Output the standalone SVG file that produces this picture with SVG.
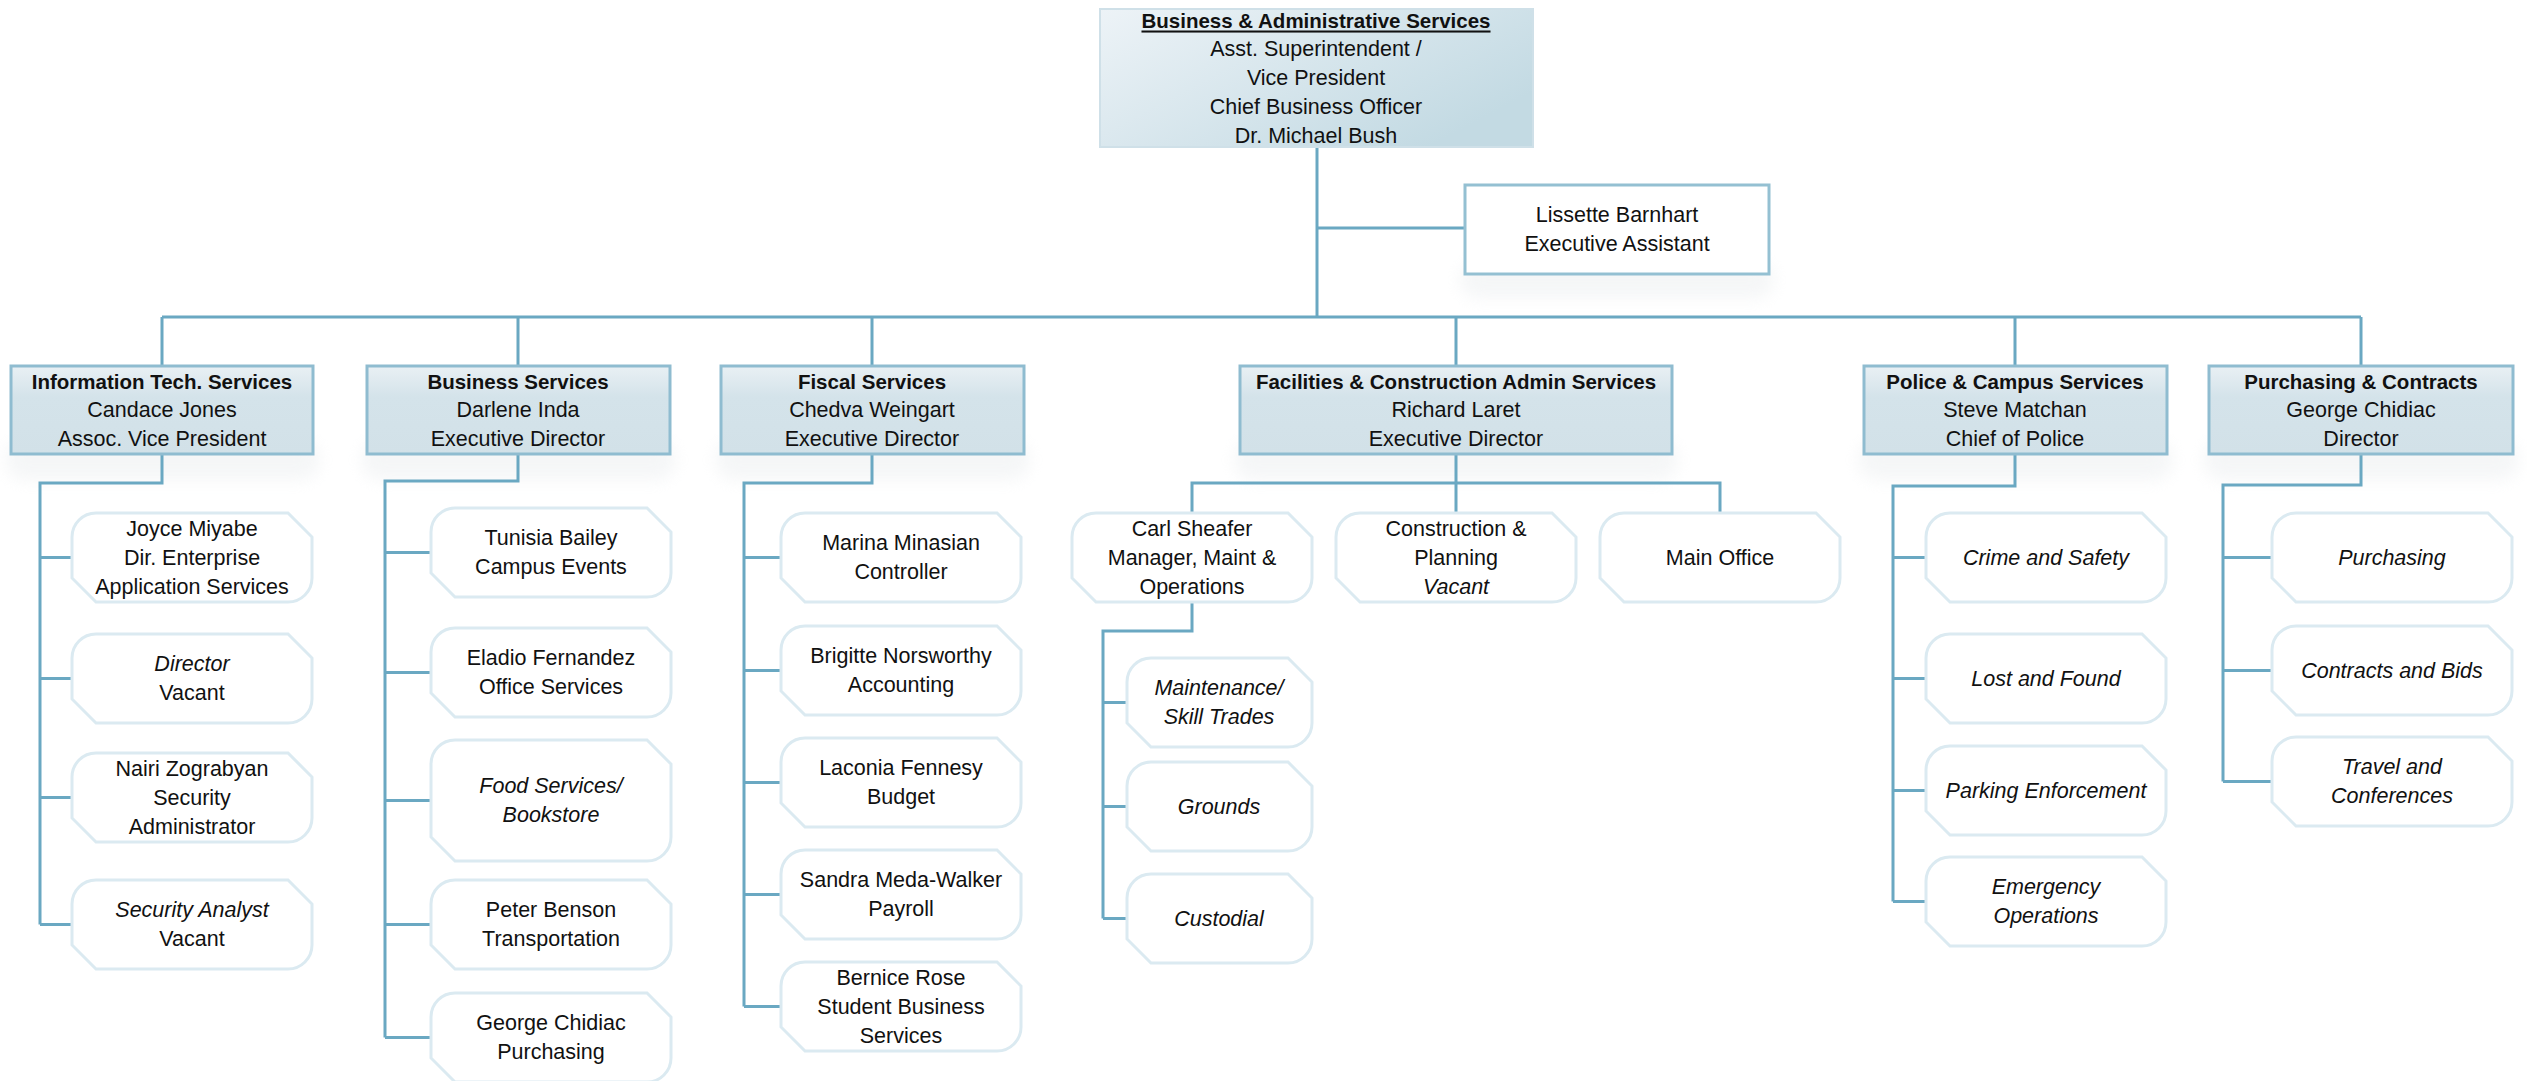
<svg xmlns="http://www.w3.org/2000/svg" xmlns:xlink="http://www.w3.org/1999/xlink" width="2527" height="1081" viewBox="0 0 2527 1081">
<style>
.t{font-family:"Liberation Sans",Arial,sans-serif;font-size:21.5px;text-anchor:middle;dominant-baseline:central;fill:#111}
.b{font-weight:bold;font-size:20.5px}
.i{font-style:italic}
.u{text-decoration:underline}
.conn path{stroke:#6aa8c2;stroke-width:3;fill:none}
.child{fill:#fff;stroke:#dbeaf1;stroke-width:3}
.dept{fill:url(#gDept);stroke:#8fbcd0;stroke-width:3}
.top{fill:url(#gTop);stroke:#cfe0e8;stroke-width:2}
.asst{fill:#fff;stroke:#94c0d2;stroke-width:3}
.sh{fill:#e9ecee;opacity:0.45;filter:url(#blur)}
</style>
<defs>
<filter id="blur" x="-20%" y="-50%" width="140%" height="200%"><feGaussianBlur stdDeviation="8"/></filter>
<linearGradient id="gTop" x1="0" y1="0" x2="1" y2="0.6">
<stop offset="0" stop-color="#edf3f7"/>
<stop offset="1" stop-color="#c3dae3"/>
</linearGradient>
<linearGradient id="gDept" x1="0" y1="0" x2="0" y2="1">
<stop offset="0" stop-color="#e9f0f4"/>
<stop offset="0.35" stop-color="#d4e3ea"/>
<stop offset="1" stop-color="#d2e1e8"/>
</linearGradient>
<path id="cb" d="M24,0 h192 l24,24 v41 a24,24 0 0 1 -24,24 h-192 l-24,-24 v-41 a24,24 0 0 1 24,-24 z"/>
<path id="cbTall" d="M24,0 h192 l24,24 v73 a24,24 0 0 1 -24,24 h-192 l-24,-24 v-73 a24,24 0 0 1 24,-24 z"/>
<path id="cbNarrow" d="M24,0 h137 l24,24 v41 a24,24 0 0 1 -24,24 h-137 l-24,-24 v-41 a24,24 0 0 1 24,-24 z"/>
</defs>
<rect width="2527" height="1081" fill="#fff"/>

<g id="shadows">
<rect class="sh" x="5" y="440" width="315" height="40" rx="20"/>
<rect class="sh" x="361" y="440" width="315" height="40" rx="20"/>
<rect class="sh" x="715" y="440" width="315" height="40" rx="20"/>
<rect class="sh" x="1234" y="440" width="444" height="40" rx="20"/>
<rect class="sh" x="1858" y="440" width="315" height="40" rx="20"/>
<rect class="sh" x="2203" y="440" width="316" height="40" rx="20"/>
<rect class="sh" x="1460" y="262" width="314" height="36" rx="18"/>
</g>

<g class="conn">
<path d="M1317,147 V317"/>
<path d="M1317,228 H1465"/>
<path d="M162,317 H2361"/>
<path d="M162,317 V366 M518,317 V366 M872,317 V366 M1456,317 V366 M2015,317 V366 M2361,317 V366"/>
<path d="M162,454 V483 H40 V924.5 M40,557.5 H72 M40,678.5 H72 M40,797.5 H72 M40,924.5 H72"/>
<path d="M518,454 V481 H385 V1037.5 M385,552.5 H431 M385,672.5 H431 M385,800.5 H431 M385,924.5 H431 M385,1037.5 H431"/>
<path d="M872,454 V483 H744 V1006.5 M744,557.5 H781 M744,670.5 H781 M744,782.5 H781 M744,894.5 H781 M744,1006.5 H781"/>
<path d="M1456,454 V513 M1192,513 V483 H1720 V513"/>
<path d="M1192,602 V631 H1103 V918.5 M1103,702.5 H1127 M1103,806.5 H1127 M1103,918.5 H1127"/>
<path d="M2015,454 V486 H1893 V901.5 M1893,557.5 H1926 M1893,678.5 H1926 M1893,790.5 H1926 M1893,901.5 H1926"/>
<path d="M2361,454 V485 H2223 V781.5 M2223,557.5 H2272 M2223,670.5 H2272 M2223,781.5 H2272"/>
</g>

<g id="top">
<rect class="top" x="1100" y="9" width="433" height="138"/>
<text class="t b u" x="1316" y="20">Business &amp; Administrative Services</text>
<text class="t" x="1316" y="49">Asst. Superintendent /</text>
<text class="t" x="1316" y="78">Vice President</text>
<text class="t" x="1316" y="107">Chief Business Officer</text>
<text class="t" x="1316" y="136">Dr. Michael Bush</text>
</g>

<g id="assistant">
<rect class="asst" x="1465" y="185" width="304" height="89"/>
<text class="t" x="1617" y="215">Lissette Barnhart</text>
<text class="t" x="1617" y="244">Executive Assistant</text>
</g>

<g id="dept-it">
<rect class="dept" x="11" y="366" width="302" height="88"/>
<text class="t b" x="162" y="381">Information Tech. Services</text>
<text class="t" x="162" y="410">Candace Jones</text>
<text class="t" x="162" y="439">Assoc. Vice President</text>
</g>
<g id="dept-bus">
<rect class="dept" x="367" y="366" width="303" height="88"/>
<text class="t b" x="518" y="381">Business Services</text>
<text class="t" x="518" y="410">Darlene Inda</text>
<text class="t" x="518" y="439">Executive Director</text>
</g>
<g id="dept-fiscal">
<rect class="dept" x="721" y="366" width="303" height="88"/>
<text class="t b" x="872" y="381">Fiscal Services</text>
<text class="t" x="872" y="410">Chedva Weingart</text>
<text class="t" x="872" y="439">Executive Director</text>
</g>
<g id="dept-fac">
<rect class="dept" x="1240" y="366" width="432" height="88"/>
<text class="t b" x="1456" y="381">Facilities &amp; Construction Admin Services</text>
<text class="t" x="1456" y="410">Richard Laret</text>
<text class="t" x="1456" y="439">Executive Director</text>
</g>
<g id="dept-police">
<rect class="dept" x="1864" y="366" width="303" height="88"/>
<text class="t b" x="2015" y="381">Police &amp; Campus Services</text>
<text class="t" x="2015" y="410">Steve Matchan</text>
<text class="t" x="2015" y="439">Chief of Police</text>
</g>
<g id="dept-purch">
<rect class="dept" x="2209" y="366" width="304" height="88"/>
<text class="t b" x="2361" y="381">Purchasing &amp; Contracts</text>
<text class="t" x="2361" y="410">George Chidiac</text>
<text class="t" x="2361" y="439">Director</text>
</g>

<!-- IT children -->
<g id="it-1"><use href="#cb" class="child" x="72" y="513"/>
<text class="t" x="192" y="528.5">Joyce Miyabe</text><text class="t" x="192" y="557.5">Dir. Enterprise</text><text class="t" x="192" y="586.5">Application Services</text></g>
<g id="it-2"><use href="#cb" class="child" x="72" y="634"/>
<text class="t i" x="192" y="664">Director</text><text class="t" x="192" y="693">Vacant</text></g>
<g id="it-3"><use href="#cb" class="child" x="72" y="753"/>
<text class="t" x="192" y="768.5">Nairi Zograbyan</text><text class="t" x="192" y="797.5">Security</text><text class="t" x="192" y="826.5">Administrator</text></g>
<g id="it-4"><use href="#cb" class="child" x="72" y="880"/>
<text class="t i" x="192" y="910">Security Analyst</text><text class="t" x="192" y="939">Vacant</text></g>

<!-- Business children -->
<g id="bus-1"><use href="#cb" class="child" x="431" y="508"/>
<text class="t" x="551" y="538">Tunisia Bailey</text><text class="t" x="551" y="567">Campus Events</text></g>
<g id="bus-2"><use href="#cb" class="child" x="431" y="628"/>
<text class="t" x="551" y="658">Eladio Fernandez</text><text class="t" x="551" y="687">Office Services</text></g>
<g id="bus-3"><use href="#cbTall" class="child" x="431" y="740"/>
<text class="t i" x="551" y="786">Food Services/</text><text class="t i" x="551" y="815">Bookstore</text></g>
<g id="bus-4"><use href="#cb" class="child" x="431" y="880"/>
<text class="t" x="551" y="910">Peter Benson</text><text class="t" x="551" y="939">Transportation</text></g>
<g id="bus-5"><use href="#cb" class="child" x="431" y="993"/>
<text class="t" x="551" y="1023">George Chidiac</text><text class="t" x="551" y="1052">Purchasing</text></g>

<!-- Fiscal children -->
<g id="fis-1"><use href="#cb" class="child" x="781" y="513"/>
<text class="t" x="901" y="543">Marina Minasian</text><text class="t" x="901" y="572">Controller</text></g>
<g id="fis-2"><use href="#cb" class="child" x="781" y="626"/>
<text class="t" x="901" y="656">Brigitte Norsworthy</text><text class="t" x="901" y="685">Accounting</text></g>
<g id="fis-3"><use href="#cb" class="child" x="781" y="738"/>
<text class="t" x="901" y="768">Laconia Fennesy</text><text class="t" x="901" y="797">Budget</text></g>
<g id="fis-4"><use href="#cb" class="child" x="781" y="850"/>
<text class="t" x="901" y="880">Sandra Meda-Walker</text><text class="t" x="901" y="909">Payroll</text></g>
<g id="fis-5"><use href="#cb" class="child" x="781" y="962"/>
<text class="t" x="901" y="977.5">Bernice Rose</text><text class="t" x="901" y="1006.5">Student Business</text><text class="t" x="901" y="1035.5">Services</text></g>

<!-- Facilities children -->
<g id="fac-1"><use href="#cb" class="child" x="1072" y="513"/>
<text class="t" x="1192" y="528.5">Carl Sheafer</text><text class="t" x="1192" y="557.5">Manager, Maint &amp;</text><text class="t" x="1192" y="586.5">Operations</text></g>
<g id="fac-2"><use href="#cb" class="child" x="1336" y="513"/>
<text class="t" x="1456" y="528.5">Construction &amp;</text><text class="t" x="1456" y="557.5">Planning</text><text class="t i" x="1456" y="586.5">Vacant</text></g>
<g id="fac-3"><use href="#cb" class="child" x="1600" y="513"/>
<text class="t" x="1720" y="557.5">Main Office</text></g>
<g id="fac-1-1"><use href="#cbNarrow" class="child" x="1127" y="658"/>
<text class="t i" x="1219" y="688">Maintenance/</text><text class="t i" x="1219" y="717">Skill Trades</text></g>
<g id="fac-1-2"><use href="#cbNarrow" class="child" x="1127" y="762"/>
<text class="t i" x="1219" y="806.5">Grounds</text></g>
<g id="fac-1-3"><use href="#cbNarrow" class="child" x="1127" y="874"/>
<text class="t i" x="1219" y="918.5">Custodial</text></g>

<!-- Police children -->
<g id="pol-1"><use href="#cb" class="child" x="1926" y="513"/>
<text class="t i" x="2046" y="557.5">Crime and Safety</text></g>
<g id="pol-2"><use href="#cb" class="child" x="1926" y="634"/>
<text class="t i" x="2046" y="678.5">Lost and Found</text></g>
<g id="pol-3"><use href="#cb" class="child" x="1926" y="746"/>
<text class="t i" x="2046" y="790.5">Parking Enforcement</text></g>
<g id="pol-4"><use href="#cb" class="child" x="1926" y="857"/>
<text class="t i" x="2046" y="887">Emergency</text><text class="t i" x="2046" y="916">Operations</text></g>

<!-- Purchasing children -->
<g id="pur-1"><use href="#cb" class="child" x="2272" y="513"/>
<text class="t i" x="2392" y="557.5">Purchasing</text></g>
<g id="pur-2"><use href="#cb" class="child" x="2272" y="626"/>
<text class="t i" x="2392" y="670.5">Contracts and Bids</text></g>
<g id="pur-3"><use href="#cb" class="child" x="2272" y="737"/>
<text class="t i" x="2392" y="767">Travel and</text><text class="t i" x="2392" y="796">Conferences</text></g>
</svg>
